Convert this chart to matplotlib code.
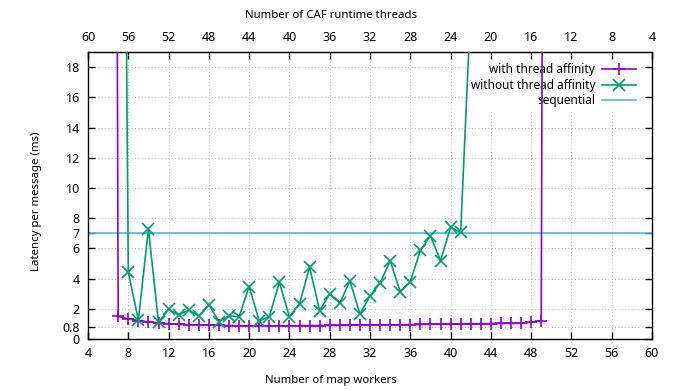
import matplotlib
matplotlib.use("Agg")
import matplotlib.pyplot as plt

plt.rcParams['font.family'] = ['Noto Sans', 'DejaVu Sans']
plt.rcParams['font.size'] = 9

c1, c2, c3 = "#9400d3", "#009e73", "#56b4e9"
l1, l2, l3 = "with thread affinity", "without thread affinity", "sequential"

# latency per message (ms) by number of map workers
aff_x = list(range(6, 51))
aff_y = [200,
         1.50, 1.33, 1.22, 1.13, 1.06, 1.01, 0.97, 0.95, 0.93, 0.91,
         0.90, 0.89, 0.88, 0.88, 0.87, 0.87, 0.87, 0.88, 0.88, 0.89,
         0.89, 0.90, 0.90, 0.91, 0.92, 0.92, 0.93, 0.94, 0.94, 0.95,
         0.96, 0.97, 0.98, 0.99, 1.00, 1.01, 1.01, 1.02, 1.03, 1.03,
         1.04, 1.12, 1.22,
         200]

noaff_x = list(range(7, 43))
noaff_y = [90, 4.43, 1.25, 7.28, 1.10, 1.97, 1.59, 1.93, 1.53, 2.26,
           1.15, 1.53, 1.48, 3.47, 1.20, 1.48, 3.75, 1.48, 2.32, 4.76,
           1.88, 2.99, 2.37, 3.85, 1.66, 2.86, 3.70, 5.18, 3.14, 3.80,
           5.86, 6.84, 5.18, 7.39, 7.06, 22]

seq_y = 7.0

xticks = list(range(4, 61, 4))
top_ticks = list(range(60, 3, -4))
yticks = [0, 0.8, 2, 4, 6, 7, 8, 10, 12, 14, 16, 18]
ytick_labels = ["0", "0.8", "2", "4", "6", "7", "8", "10", "12", "14", "16", "18"]

fig = plt.figure(figsize=(6.81, 3.90), dpi=100)
ax = fig.add_axes([88/681, 1-339/390, (652-88)/681, (339-52)/390])

ax.plot(aff_x, aff_y, '-', color=c1, lw=1.2, marker='+', ms=9, mew=1.2, label=l1, zorder=3)
ax.plot(noaff_x, noaff_y, '-', color=c2, lw=1.2, marker='x', ms=8, mew=1.2, label=l2, zorder=3)
ax.axhline(seq_y, color=c3, lw=1.2, label=l3, zorder=2)

ax.set_xlim(4, 60)
ax.set_ylim(0, 19)
ax.set_xticks(xticks)
ax.set_yticks(yticks)
ax.set_yticklabels(ytick_labels)
ax.tick_params(direction='in', length=5, width=1, right=True, top=False, pad=6)
ax.set_axisbelow(True)
ax.grid(True, color='#a0a0a0', lw=0.6, linestyle=(0, (1, 3)))
for s in ax.spines.values():
    s.set_linewidth(1)

top = ax.secondary_xaxis('top', functions=(lambda x: 64 - x, lambda x: 64 - x))
top.set_xticks(top_ticks)
top.tick_params(direction='in', length=5, width=1, pad=6)
top.set_xlabel("Number of CAF runtime threads", fontsize=8.2)
top.xaxis.set_label_coords(0.431, 1.118, transform=ax.transAxes)

ax.set_xlabel("Number of map workers", fontsize=8.2)
ax.xaxis.set_label_coords(0.431, -0.125)
ax.set_ylabel("Latency per message (ms)", fontsize=8.2)
ax.yaxis.set_label_coords(-0.0816, 0.48)

leg = ax.legend(loc='upper right', bbox_to_anchor=(0.989, 0.993), markerfirst=False,
                frameon=True, facecolor='white', edgecolor='none', framealpha=1,
                handlelength=2.9, labelspacing=0.2, borderpad=0.3, handletextpad=0.6,
                fontsize=8.5)
leg.set_zorder(1)

fig.savefig("out.png", dpi=100)
